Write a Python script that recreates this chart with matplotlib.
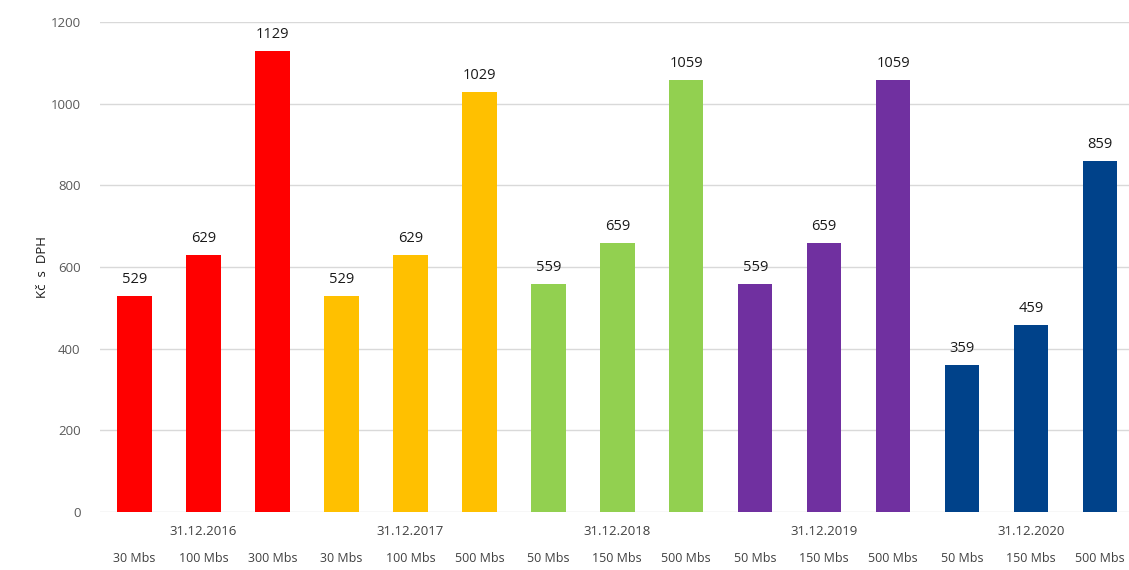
import matplotlib.pyplot as plt
import numpy as np

# data
groups = ['31.12.2016', '31.12.2017', '31.12.2018', '31.12.2019', '31.12.2020']
speeds = ['30 Mbs', '100 Mbs', '300 Mbs',
          '30 Mbs', '100 Mbs', '500 Mbs',
          '50 Mbs', '150 Mbs', '500 Mbs',
          '50 Mbs', '150 Mbs', '500 Mbs',
          '50 Mbs', '150 Mbs', '500 Mbs']
prices = [529, 629, 1129,
          529, 629, 1029,
          559, 659, 1059,
          559, 659, 1059,
          359, 459, 859]
group_colors = ['#FF0000', '#FFC000', '#92D050', '#7030A0', '#00428A']

plt.rcParams['font.family'] = ['Open Sans', 'DejaVu Sans']

fig = plt.figure(figsize=(11.29, 5.70), dpi=100)
ax = fig.add_axes([100 / 1129, 1 - 512 / 570, 1 - 100 / 1129, 490 / 570])

x = np.arange(len(prices))
colors = [group_colors[i // 3] for i in range(len(prices))]
ax.bar(x, prices, width=0.5, color=colors, zorder=3)

for xi, v in zip(x, prices):
    ax.text(xi, v + 22, str(v), ha='center', va='bottom', fontsize=10.5, color='#1a1a1a')

ax.set_xlim(-0.5, 14.42)
ax.set_ylim(0, 1200)
ax.set_yticks(range(0, 1201, 200))
ax.tick_params(axis='y', length=0, labelsize=9.5, labelcolor='#595959', pad=14)
ax.grid(axis='y', color='#d9d9d9', linewidth=1, zorder=0)
for s in ax.spines.values():
    s.set_visible(False)

ax.set_xticks(x)
ax.set_xticklabels(speeds)
ax.tick_params(axis='x', length=0, labelsize=9, labelcolor='#404040', pad=29)

for i, g in enumerate(groups):
    ax.text(3 * i + 1, -47, g, ha='center', va='center', fontsize=9.5,
            color='#404040', transform=ax.transData)

ax.set_ylabel('Kč  s  DPH', fontsize=9.5, color='#1a1a1a', labelpad=1)

fig.savefig('out.png', dpi=100)
